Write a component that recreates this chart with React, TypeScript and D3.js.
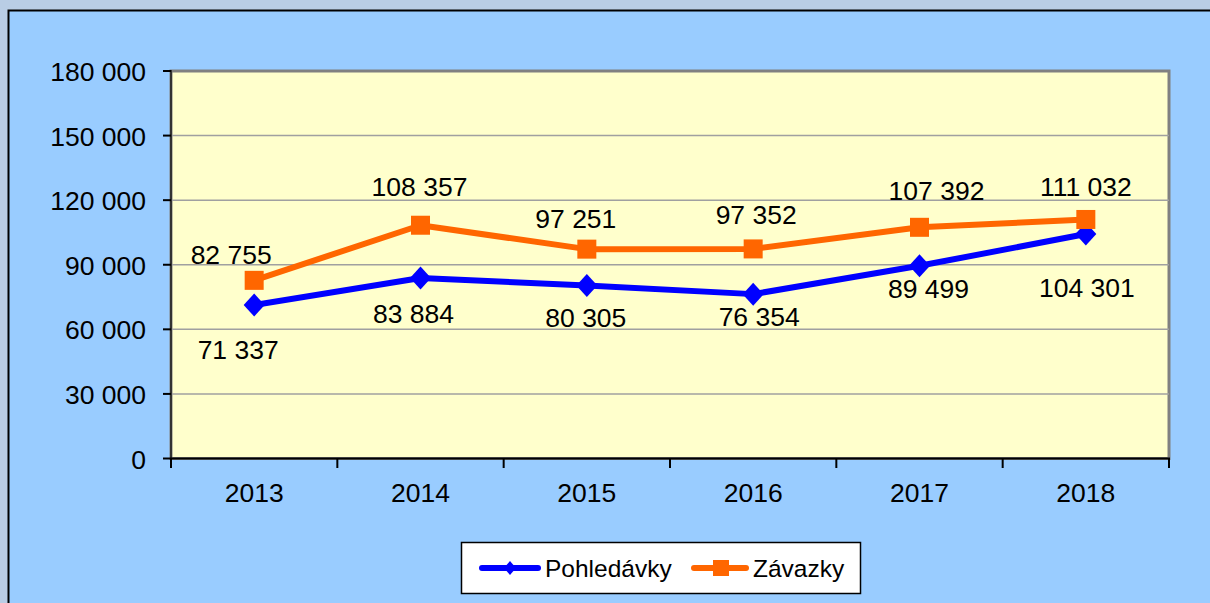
import React, { useEffect, useRef } from "react";
import * as d3 from "d3";

const years = ["2013", "2014", "2015", "2016", "2017", "2018"];
const pohledavky = [71337, 83884, 80305, 76354, 89499, 104301];
const zavazky = [82755, 108357, 97251, 97352, 107392, 111032];
const yTicks = [0, 30000, 60000, 90000, 120000, 150000, 180000];
const seriesNames = ["Pohledávky", "Závazky"];

// label nudges (dx, dy of baseline relative to point), as placed in the original
const pohLabelNudge = [[-16, 54], [-7, 45], [-1, 41], [6, 32], [9, 32], [1, 63]];
const zavLabelNudge = [[-23, -16], [-1, -29], [-11, -21], [3, -25], [17, -27], [0, -23]];

const W = 1210;
const H = 603;
const FONT = "'Liberation Sans', Arial, sans-serif";
const fmt = (v: number) => d3.format(",")(v).replace(/,/g, " ");

export default function App() {
  const ref = useRef<SVGSVGElement | null>(null);

  useEffect(() => {
    document.body.style.margin = "0";
    const svg = d3.select(ref.current);
    svg.selectAll("*").remove();

    // outer background and chart area
    svg.append("rect").attr("width", W).attr("height", H).attr("fill", "#b9cde5");
    svg.append("rect").attr("x", 8.5).attr("y", 10.5).attr("width", W + 10).attr("height", H + 10)
      .attr("fill", "#99ccff").attr("stroke", "#000").attr("stroke-width", 2);

    const left = 171, right = 1169, top = 71, bottom = 458.5;
    const x = d3.scaleBand().domain(years).range([left, right]).padding(0);
    const y = d3.scaleLinear().domain([0, 180000]).range([bottom, top]);
    const cx = (i: number) => (x(years[i]) as number) + x.bandwidth() / 2;

    // plot area
    svg.append("rect").attr("x", left).attr("y", top).attr("width", right - left).attr("height", bottom - top)
      .attr("fill", "#ffffcc").attr("stroke", "#808080").attr("stroke-width", 3);

    // gridlines
    svg.append("g").selectAll("line").data(yTicks.filter((t) => t > 0 && t < 180000)).join("line")
      .attr("x1", left).attr("x2", right).attr("y1", (d) => y(d)).attr("y2", (d) => y(d))
      .attr("stroke", "#a0a0a0").attr("stroke-width", 1.5);

    // axes lines
    svg.append("line").attr("x1", left).attr("x2", left).attr("y1", top - 1).attr("y2", bottom)
      .attr("stroke", "#333").attr("stroke-width", 2);
    svg.append("line").attr("x1", left).attr("x2", right + 1).attr("y1", bottom).attr("y2", bottom)
      .attr("stroke", "#000").attr("stroke-width", 2);

    // y ticks & labels
    const yg = svg.append("g");
    yg.selectAll("line").data(yTicks).join("line")
      .attr("x1", 163).attr("x2", left).attr("y1", (d) => y(d)).attr("y2", (d) => y(d))
      .attr("stroke", "#000").attr("stroke-width", 2);
    yg.selectAll("text").data(yTicks).join("text")
      .attr("x", 146).attr("y", (d) => y(d) + 10).attr("text-anchor", "end")
      .attr("font-family", FONT).attr("font-size", 26.5).attr("fill", "#000")
      .text((d) => fmt(d));

    // x ticks & labels
    const xb = years.map((yr) => x(yr) as number).concat([right]);
    svg.append("g").selectAll("line").data(xb).join("line")
      .attr("x1", (d) => d).attr("x2", (d) => d).attr("y1", bottom).attr("y2", 468)
      .attr("stroke", "#000").attr("stroke-width", 2);
    svg.append("g").selectAll("text").data(years).join("text")
      .attr("x", (_d, i) => cx(i)).attr("y", 502).attr("text-anchor", "middle")
      .attr("font-family", FONT).attr("font-size", 26.5).attr("fill", "#000")
      .text((d) => d);

    const line = d3.line<number>().x((_d, i) => cx(i)).y((d) => y(d));

    // blue series
    svg.append("path").datum(pohledavky).attr("d", line).attr("fill", "none")
      .attr("stroke", "#0000ff").attr("stroke-width", 6).attr("stroke-linejoin", "round");
    const diamond = (px: number, py: number, r: number, ry: number) =>
      `M${px},${py - ry}L${px + r},${py}L${px},${py + ry}L${px - r},${py}Z`;
    svg.append("g").selectAll("path").data(pohledavky).join("path")
      .attr("d", (d, i) => diamond(cx(i), y(d), 10.5, 11.5)).attr("fill", "#0000ff");

    // orange series
    svg.append("path").datum(zavazky).attr("d", line).attr("fill", "none")
      .attr("stroke", "#ff6600").attr("stroke-width", 6).attr("stroke-linejoin", "round");
    svg.append("g").selectAll("rect").data(zavazky).join("rect")
      .attr("x", (_d, i) => cx(i) - 9.5).attr("y", (d) => y(d) - 9.5)
      .attr("width", 19).attr("height", 19).attr("fill", "#ff6600");

    // data labels
    svg.append("g").selectAll("text").data(pohledavky).join("text")
      .attr("x", (_d, i) => cx(i) + pohLabelNudge[i][0]).attr("y", (d, i) => y(d) + pohLabelNudge[i][1])
      .attr("text-anchor", "middle").attr("font-family", FONT).attr("font-size", 26.5).attr("fill", "#000")
      .text((d) => fmt(d));
    svg.append("g").selectAll("text").data(zavazky).join("text")
      .attr("x", (_d, i) => cx(i) + zavLabelNudge[i][0]).attr("y", (d, i) => y(d) + zavLabelNudge[i][1])
      .attr("text-anchor", "middle").attr("font-family", FONT).attr("font-size", 26.5).attr("fill", "#000")
      .text((d) => fmt(d));

    // legend
    const lg = svg.append("g");
    lg.append("rect").attr("x", 461.5).attr("y", 542.5).attr("width", 399).attr("height", 51)
      .attr("fill", "#fff").attr("stroke", "#000").attr("stroke-width", 1.5);
    lg.append("line").attr("x1", 482).attr("x2", 538).attr("y1", 568).attr("y2", 568)
      .attr("stroke", "#0000ff").attr("stroke-width", 6).attr("stroke-linecap", "round");
    lg.append("path").attr("d", diamond(510, 568, 6, 7)).attr("fill", "#0000ff");
    lg.append("text").attr("x", 545).attr("y", 577).attr("font-family", FONT).attr("font-size", 24.5)
      .attr("fill", "#000").text(seriesNames[0]);
    lg.append("line").attr("x1", 694).attr("x2", 746).attr("y1", 568).attr("y2", 568)
      .attr("stroke", "#ff6600").attr("stroke-width", 6).attr("stroke-linecap", "round");
    lg.append("rect").attr("x", 713).attr("y", 560).attr("width", 16).attr("height", 16).attr("fill", "#ff6600");
    lg.append("text").attr("x", 753).attr("y", 577).attr("font-family", FONT).attr("font-size", 24.5)
      .attr("fill", "#000").text(seriesNames[1]);
  }, []);

  return (
    <svg ref={ref} width={W} height={H} style={{ position: "absolute", left: 0, top: 0, display: "block" }} />
  );
}
